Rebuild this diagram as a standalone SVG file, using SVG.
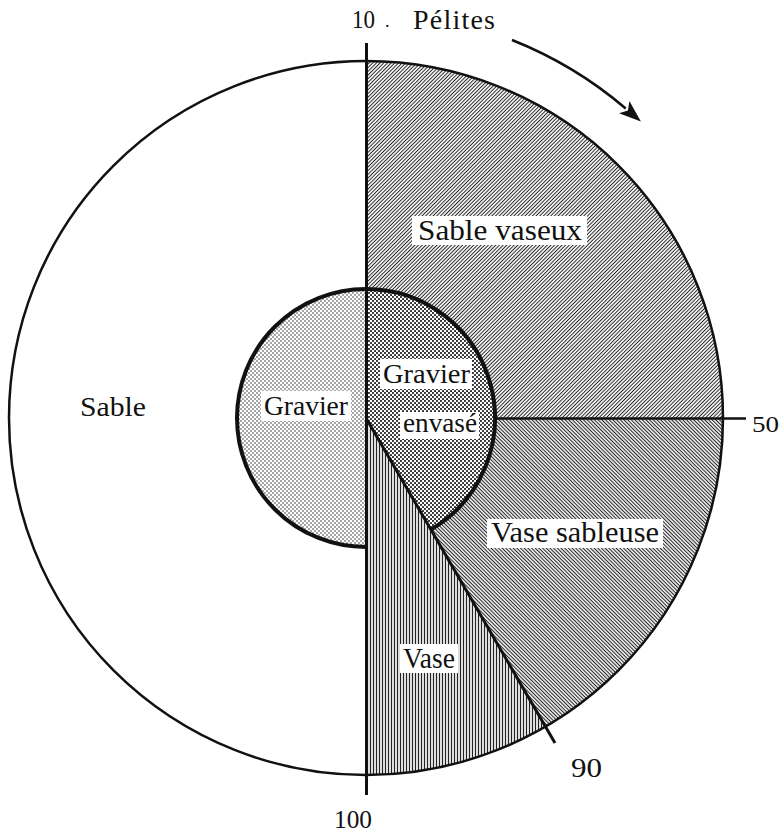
<svg xmlns="http://www.w3.org/2000/svg" width="779" height="832" viewBox="0 0 779 832">
<style>
  .lbl { font-family: "Liberation Serif", "DejaVu Serif", serif; fill: #111; }
  .box { fill: #fff; stroke: none; }
  .thin { fill: none; stroke: #111; stroke-width: 2.5; }
  .thick { fill: none; stroke: #111; stroke-width: 4; }
</style>
<defs>
  <pattern id="hatchFwd" width="2.6" height="10" patternUnits="userSpaceOnUse" patternTransform="rotate(45)">
    <rect width="2.6" height="10" fill="#fff"/>
    <line x1="1.3" y1="0" x2="1.3" y2="10" stroke="#222" stroke-width="1"/>
  </pattern>
  <pattern id="hatchBack" width="2.6" height="10" patternUnits="userSpaceOnUse" patternTransform="rotate(-45)">
    <rect width="2.6" height="10" fill="#fff"/>
    <line x1="1.3" y1="0" x2="1.3" y2="10" stroke="#222" stroke-width="1.1"/>
  </pattern>
  <pattern id="hatchVert" width="3" height="10" patternUnits="userSpaceOnUse">
    <rect width="3" height="10" fill="#fff"/>
    <line x1="1.5" y1="0" x2="1.5" y2="10" stroke="#222" stroke-width="1.3"/>
  </pattern>
  <pattern id="dotsDense" width="4" height="4" patternUnits="userSpaceOnUse">
    <rect width="4" height="4" fill="#fff"/>
    <circle cx="1" cy="1" r="1.05" fill="#222"/>
    <circle cx="3" cy="3" r="1.05" fill="#222"/>
  </pattern>
  <pattern id="dotsLight" width="4" height="4" patternUnits="userSpaceOnUse">
    <rect width="4" height="4" fill="#fff"/>
    <circle cx="1" cy="1" r="0.8" fill="#333"/>
    <circle cx="3" cy="3" r="0.8" fill="#333"/>
  </pattern>
  <marker id="arrowHead" markerWidth="24" markerHeight="16" refX="2" refY="8" orient="auto" markerUnits="userSpaceOnUse">
    <path d="M0,0 L22,8 L0,16 L5,8 Z" fill="#111"/>
  </marker>
</defs>

<rect width="779" height="832" fill="#fff"/>

<g id="sable">
  <circle cx="366" cy="418" r="357" fill="#fff"/>
</g>
<g id="sable-vaseux">
  <path d="M366,61 A357,357 0 0 1 723,418 L495,418 A129,129 0 0 0 366,289 Z" fill="url(#hatchFwd)"/>
</g>
<g id="vase-sableuse">
  <path d="M495,418 L723,418 A357,357 0 0 1 544.5,727.2 L430.5,529.7 A129,129 0 0 0 495,418 Z" fill="url(#hatchBack)"/>
</g>
<g id="vase">
  <path d="M366,418 L544.5,727.2 A357,357 0 0 1 366,775 Z" fill="url(#hatchVert)"/>
</g>
<g id="gravier-envase">
  <path d="M366,418 L366,289 A129,129 0 0 1 430.5,529.7 Z" fill="url(#dotsDense)"/>
</g>
<g id="gravier">
  <path d="M366,289 A129,129 0 0 0 366,547 Z" fill="url(#dotsLight)"/>
</g>

<g id="connectors">
  <circle class="thin" cx="366" cy="418" r="357"/>
  <path class="thick" d="M366,289 A129,129 0 0 0 366,547"/>
  <path class="thick" d="M366,289 A129,129 0 0 1 430.5,529.7"/>
  <line x1="366.5" y1="43" x2="366.5" y2="795" stroke="#111" stroke-width="3"/>
  <line x1="495" y1="418.5" x2="746" y2="418.5" stroke="#111" stroke-width="2.5"/>
  <line x1="366" y1="418" x2="555" y2="743" stroke="#111" stroke-width="3"/>
  <path d="M512,40 A404,404 0 0 1 625.7,108.5" fill="none" stroke="#111" stroke-width="2.5" marker-end="url(#arrowHead)"/>
</g>

<g id="labels">
  <text class="lbl" x="352" y="28" font-size="25" textLength="23" lengthAdjust="spacingAndGlyphs">10</text>
  <text class="lbl" x="385" y="27" font-size="18">.</text>
  <text class="lbl" x="413" y="29" font-size="28" textLength="82" lengthAdjust="spacing">Pélites</text>

  <rect class="box" x="412" y="216" width="175" height="29"/>
  <text class="lbl" x="418" y="240" font-size="29" textLength="164" lengthAdjust="spacingAndGlyphs">Sable vaseux</text>

  <text class="lbl" x="80" y="416" font-size="28" textLength="66" lengthAdjust="spacingAndGlyphs">Sable</text>

  <rect class="box" x="261" y="391" width="90" height="30"/>
  <text class="lbl" x="264" y="415" font-size="28" textLength="84" lengthAdjust="spacingAndGlyphs">Gravier</text>

  <rect class="box" x="380" y="359" width="92" height="30"/>
  <text class="lbl" x="383" y="383" font-size="28" textLength="87" lengthAdjust="spacingAndGlyphs">Gravier</text>
  <rect class="box" x="400" y="412" width="79" height="27"/>
  <text class="lbl" x="403" y="432" font-size="28" textLength="74" lengthAdjust="spacingAndGlyphs">envasé</text>

  <rect class="box" x="487" y="519" width="176" height="29"/>
  <text class="lbl" x="491" y="542" font-size="29" textLength="168" lengthAdjust="spacingAndGlyphs">Vase sableuse</text>

  <rect class="box" x="400" y="644" width="58" height="29"/>
  <text class="lbl" x="403" y="668" font-size="29" textLength="52" lengthAdjust="spacingAndGlyphs">Vase</text>

  <text class="lbl" x="571" y="777" font-size="27" textLength="31" lengthAdjust="spacingAndGlyphs">90</text>
  <text class="lbl" x="334" y="828" font-size="25" textLength="38" lengthAdjust="spacingAndGlyphs">100</text>
  <text class="lbl" x="752" y="432" font-size="23" textLength="27" lengthAdjust="spacingAndGlyphs">50</text>
</g>
</svg>
